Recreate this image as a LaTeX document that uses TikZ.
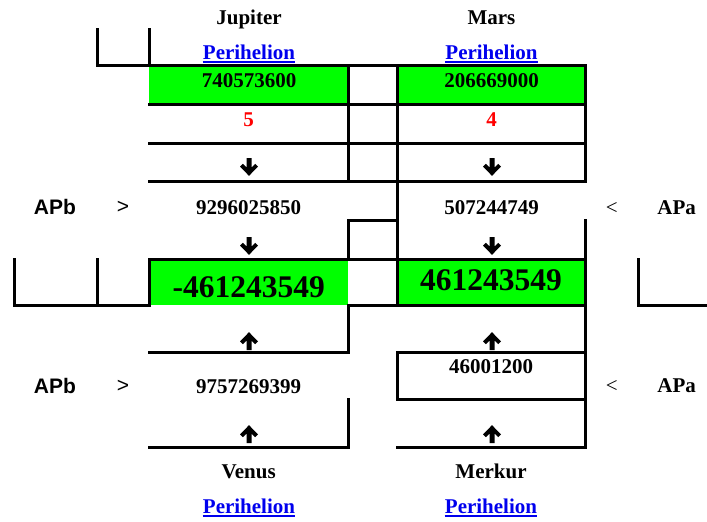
\documentclass[tikz,border=0pt]{standalone}
\usepackage{fontspec}
\setmainfont{Liberation Serif}
\newfontfamily\arialfont{Liberation Sans}
\definecolor{lime}{RGB}{0,255,0}
\definecolor{linkblue}{RGB}{0,0,238}
\begin{document}
\begin{tikzpicture}[x=1pt,y=-1pt,
  rule/.style={line width=3pt,line cap=rect},
  greencell/.style={fill=lime},
  uline/.style={draw=linkblue,line width=1.8pt},
  txt/.style={anchor=base,inner sep=0pt,font=\fontsize{21}{25}\selectfont\bfseries},
  bigtxt/.style={anchor=base,inner sep=0pt,font=\fontsize{31.5}{36}\selectfont\bfseries},
  linktxt/.style={txt,text=linkblue},
  redtxt/.style={txt,text=red},
  sanstxt/.style={anchor=base,inner sep=0pt,font=\fontsize{21}{25}\arialfont\bfseries},
  cmptxt/.style={anchor=base,inner sep=0pt,font=\fontsize{21}{25}\selectfont},
  cmpsans/.style={anchor=base,inner sep=0pt,font=\fontsize{21}{25}\arialfont},
  darrow/.pic={\fill (-2.5,0) -- (2.5,0) -- (2.5,9.5) -- (6.2,5.8) -- (9,8.6) -- (0,17.8) -- (-9,8.6) -- (-6.2,5.8) -- (-2.5,9.5) -- cycle;},
  uarrow/.pic={\fill (-2.5,0) -- (2.5,0) -- (2.5,-9.5) -- (6.2,-5.8) -- (9,-8.6) -- (0,-17.8) -- (-9,-8.6) -- (-6.2,-5.8) -- (-2.5,-9.5) -- cycle;}
]
\useasboundingbox (0,0) rectangle (707,522);

% green cells
\fill[greencell] (149,65) rectangle (348,104);
\fill[greencell] (397,65) rectangle (585,104);
\fill[greencell] (149,259) rectangle (348,305);
\fill[greencell] (397,259) rectangle (585,305);

% table rules
\draw[rule] (97,29) -- (97,65);
\draw[rule] (149,29) -- (149,65);
\draw[rule] (97,65) -- (585,65);
\draw[rule] (348,65) -- (348,181);
\draw[rule] (397,65) -- (397,305);
\draw[rule] (585,65) -- (585,181);
\draw[rule] (149,104) -- (585,104);
\draw[rule] (149,143) -- (585,143);
\draw[rule] (149,181) -- (585,181);
\draw[rule] (348,259) -- (348,220) -- (397,220);
\draw[rule] (585,220) -- (585,447);
\draw[rule] (149,259) -- (585,259);
\draw[rule] (14,259) -- (14,305) -- (149,305) -- (149,259);
\draw[rule] (97,259) -- (97,305);
\draw[rule] (638,259) -- (638,305) -- (707,305);
\draw[rule] (348,305) -- (585,305);
\draw[rule] (348,305) -- (348,352) -- (149,352);
\draw[rule] (397,352) -- (585,352);
\draw[rule] (397,352) -- (397,399) -- (585,399);
\draw[rule] (348,399) -- (348,447) -- (149,447);
\draw[rule] (397,447) -- (585,447);

% headers
\node[txt] (jup) at (249,24) {Jupiter};
\node[txt] (mars) at (491.5,24) {Mars};
\node[linktxt] (jupl) at (249,59) {Perihelion};
\node[linktxt] (marsl) at (491.5,59) {Perihelion};

\node[txt] (jupv) at (249,87) {740573600};
\node[txt] (marsv) at (491.5,87) {206669000};
\node[redtxt] (jupn) at (248.5,126) {5};
\node[redtxt] (marsn) at (491.5,126) {4};

\pic at (249,158) {darrow};
\pic at (492,158) {darrow};

\node[sanstxt] (apb1) at (55,214) {APb};
\node[cmpsans] (gt1) at (123,213) {>};
\node[txt] (s1) at (248.5,214) {9296025850};
\node[txt] (s2) at (491.5,214) {507244749};
\node[cmptxt] (lt1) at (611.7,214) {<};
\node[txt] (apa1) at (676.7,214) {APa};

\pic at (249,237) {darrow};
\pic at (492,237) {darrow};

\node[bigtxt] (d1) at (248.8,297) {-461243549};
\node[bigtxt] (d2) at (491,290) {461243549};

\pic at (249,350) {uarrow};
\pic at (492,350) {uarrow};

\node[sanstxt] (apb2) at (55,393) {APb};
\node[cmpsans] (gt2) at (123,392) {>};
\node[txt] (s3) at (248.5,393) {9757269399};
\node[txt] (s4) at (491,373) {46001200};
\node[cmptxt] (lt2) at (611.7,392) {<};
\node[txt] (apa2) at (676.7,392) {APa};

\pic at (249,443) {uarrow};
\pic at (492,443) {uarrow};

\node[txt] (ven) at (248.7,478) {Venus};
\node[txt] (merk) at (491,478) {Merkur};
\node[linktxt] (venl) at (249,513) {Perihelion};
\node[linktxt] (merkl) at (491,513) {Perihelion};

% link underlines
\foreach \n in {jupl,marsl,venl,merkl}
  \draw[uline] ([yshift=-3.3pt]\n.base west) -- ([yshift=-3.3pt]\n.base east);
\end{tikzpicture}
\end{document}
